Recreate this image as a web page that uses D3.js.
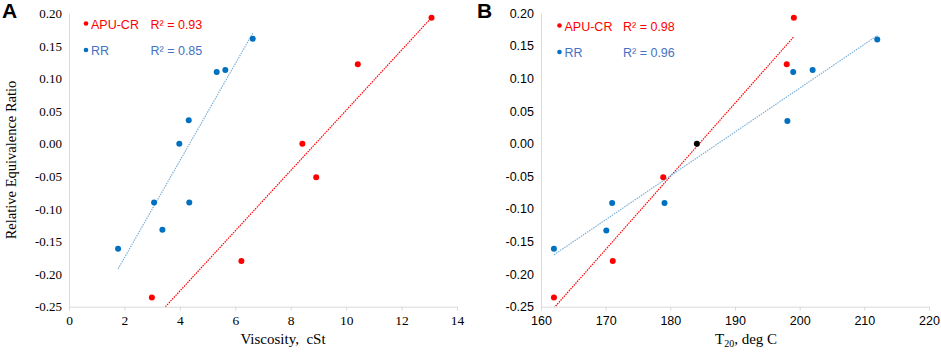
<!DOCTYPE html>
<html lang="en">
<head>
<meta charset="UTF-8">
<title>Relative Equivalence Ratio</title>
<style>
  html, body { margin: 0; padding: 0; background: #fff; }
  .serif { font-family: "Liberation Serif", "DejaVu Serif", serif; }
  .sans { font-family: "Liberation Sans", Arial, sans-serif; }
</style>
</head>
<body>
<div id="wrapper"></div>
<script src="https://d3js.org/d3.v7.min.js"></script>
<script>
// ---- data ----
// panel A: viscosity (cSt) vs relative equivalence ratio
const viscRR = [6.63, 5.33, 5.64, 4.32, 3.98, 3.07, 4.34, 3.37, 1.77];
const ratioRR_A = [0.161, 0.110, 0.113, 0.036, 0.000, -0.090, -0.090, -0.132, -0.161];
const viscAPU = [13.08, 10.42, 8.42, 8.92, 6.22, 2.99];
const ratioAPU_A = [0.193, 0.122, 0.000, -0.0515, -0.180, -0.236];

// panel B: T20 (deg C) vs relative equivalence ratio
const t20RR = [212, 199, 202, 198.1, 162, 171, 170.1, 179.1];
const ratioRR_B = [0.160, 0.110, 0.113, 0.035, -0.161, -0.091, -0.133, -0.091];
const t20APU = [199.1, 198, 178.9, 171.1, 162];
const ratioAPU_B = [0.193, 0.122, -0.0515, -0.180, -0.236];
// shared reference point of both series in B (drawn black)
const t20Ref = [184.1];
const ratioRef = [0];

const yTicks = [0.20, 0.15, 0.10, 0.05, 0.00, -0.05, -0.10, -0.15, -0.20, -0.25];
const xTicksA = [0, 2, 4, 6, 8, 10, 12, 14];
const xTicksB = [160, 170, 180, 190, 200, 210, 220];
const r2A = ["0.93", "0.85"];
const r2B = ["0.98", "0.96"];

const RED = "#ff0000", BLUE = "#0070c0", BLUE_TXT = "#4472c4", TREND_BLUE = "#7fb2d8";

const width = 941, height = 352;
const svg = d3.select('#wrapper').append('svg')
  .attr('width', width).attr('height', height);

function zip(xs, ys) { return xs.map((x, i) => ({ x: x, y: ys[i] })); }

// simple least squares, like the excel trendline
function fit(pts) {
  const mx = d3.mean(pts, d => d.x), my = d3.mean(pts, d => d.y);
  const sxy = d3.sum(pts, d => (d.x - mx) * (d.y - my));
  const sxx = d3.sum(pts, d => (d.x - mx) * (d.x - mx));
  const b = sxy / sxx;
  return x => my + b * (x - mx);
}

function panel(cfg) {
  const x = d3.scaleLinear().domain(cfg.xDomain).range([cfg.left, cfg.right]);
  const y = d3.scaleLinear().domain([-0.25, 0.20]).range([306.7, 13.3]);
  const g = svg.append('g');
  const fontCls = cfg.serifTicks ? 'serif' : 'sans';

  // clip for trendlines
  g.append('clipPath').attr('id', 'clip' + cfg.id)
    .append('rect')
    .attr('x', cfg.left).attr('y', y(0.20))
    .attr('width', cfg.right - cfg.left).attr('height', y(-0.25) - y(0.20));

  // y axis (line only, no ticks)
  const yAxis = d3.axisLeft(y).tickValues(yTicks).tickSize(0).tickPadding(7);
  const ya = g.append('g').attr('transform', `translate(${cfg.left},0)`).call(yAxis);
  ya.select('.domain').attr('stroke', '#d9d9d9');
  ya.selectAll('text').attr('class', fontCls)
    .style('font-size', cfg.serifTicks ? '13px' : '12.5px').attr('fill', '#000')
    .text(d => d3.format('.2f')(d).replace('−', '-'));

  // x axis with small outward ticks
  const xAxis = d3.axisBottom(x).tickValues(cfg.xTicks).tickSizeInner(4).tickSizeOuter(0)
    .tickPadding(5);
  const xa = g.append('g').attr('transform', `translate(0,${y(-0.25)})`).call(xAxis);
  xa.select('.domain').attr('stroke', '#d9d9d9');
  xa.selectAll('.tick line').attr('stroke', '#d9d9d9');
  xa.selectAll('text').attr('class', fontCls)
    .style('font-size', cfg.serifTicks ? '13.5px' : '12.5px').attr('fill', '#000');

  // trendlines
  cfg.series.forEach(s => {
    const pts = s.fitPts;
    const f = fit(pts);
    const ext = d3.extent(pts, d => d.x);
    g.append('line')
      .attr('clip-path', `url(#clip${cfg.id})`)
      .attr('x1', x(ext[0])).attr('y1', y(f(ext[0])))
      .attr('x2', x(ext[1])).attr('y2', y(f(ext[1])))
      .attr('stroke', s.trend).attr('stroke-width', 1.2)
      .attr('stroke-dasharray', '1.5,1');
  });

  // points
  cfg.series.forEach(s => {
    g.selectAll(null).data(s.pts).join('circle')
      .attr('cx', d => x(d.x)).attr('cy', d => y(d.y))
      .attr('r', 3).attr('fill', s.color);
  });

  // legend
  cfg.series.forEach((s, i) => {
    const ly = cfg.legendY + i * 26.5;
    g.append('circle').attr('cx', cfg.legX).attr('cy', ly - 5).attr('r', 2.3).attr('fill', s.color);
    g.append('text').attr('class', 'sans').attr('x', cfg.legX + 5).attr('y', ly)
      .style('font-size', '12.5px').attr('fill', s.txt).text(s.name);
    g.append('text').attr('class', 'sans').attr('x', cfg.r2X).attr('y', ly)
      .style('font-size', '12.5px').attr('fill', s.txt)
      .text('R\u00b2 = ' + s.r2);
  });

  // panel letter
  g.append('text').attr('class', 'sans').attr('x', cfg.letterX).attr('y', 18)
    .style('font-size', '21px').style('font-weight', 'bold').text(cfg.id);

  return g;
}

const ptsRRA = zip(viscRR, ratioRR_A), ptsAPUA = zip(viscAPU, ratioAPU_A);
const gA = panel({
  id: 'A', xDomain: [0, 14], left: 69, right: 457, xTicks: xTicksA, serifTicks: true,
  legX: 86, legendY: 28.5, r2X: 150.5, letterX: 2,
  series: [
    { name: 'APU-CR', pts: ptsAPUA, fitPts: ptsAPUA, color: RED, txt: RED, trend: RED, r2: r2A[0] },
    { name: 'RR', pts: ptsRRA, fitPts: ptsRRA, color: BLUE, txt: BLUE_TXT, trend: TREND_BLUE, r2: r2A[1] }
  ]
});
gA.append('text').attr('class', 'serif')
  .attr('transform', 'translate(16,160) rotate(-90)')
  .attr('text-anchor', 'middle').style('font-size', '14.5px')
  .text('Relative Equivalence Ratio');
gA.append('text').attr('class', 'serif').attr('x', 283).attr('y', 344)
  .attr('text-anchor', 'middle').style('font-size', '15px')
  .style('white-space', 'pre')
  .text('Viscosity,  cSt');

const ptsRef = zip(t20Ref, ratioRef);
const ptsRRB = zip(t20RR, ratioRR_B), ptsAPUB = zip(t20APU, ratioAPU_B);
const gB = panel({
  id: 'B', xDomain: [160, 220], left: 541, right: 929, xTicks: xTicksB, serifTicks: false,
  legX: 559.5, legendY: 30.5, r2X: 623, letterX: 477,
  series: [
    { name: 'APU-CR', pts: ptsAPUB, fitPts: ptsAPUB.concat(ptsRef), color: RED, txt: RED, trend: RED, r2: r2B[0] },
    { name: 'RR', pts: ptsRRB, fitPts: ptsRRB.concat(ptsRef), color: BLUE, txt: BLUE_TXT, trend: TREND_BLUE, r2: r2B[1] }
  ]
});
// black reference dot
const xB = d3.scaleLinear().domain([160, 220]).range([541, 929]);
const yB = d3.scaleLinear().domain([-0.25, 0.20]).range([306.7, 13.3]);
gB.selectAll(null).data(ptsRef).join('circle')
  .attr('cx', d => xB(d.x)).attr('cy', d => yB(d.y)).attr('r', 3).attr('fill', '#000');

const xt = gB.append('text').attr('class', 'serif').attr('x', 746).attr('y', 344)
  .attr('text-anchor', 'middle').style('font-size', '15px');
xt.append('tspan').text('T');
xt.append('tspan').attr('dy', 3).style('font-size', '10px').text('20');
xt.append('tspan').attr('dy', -3).text(', deg C');
</script>
</body>
</html>
